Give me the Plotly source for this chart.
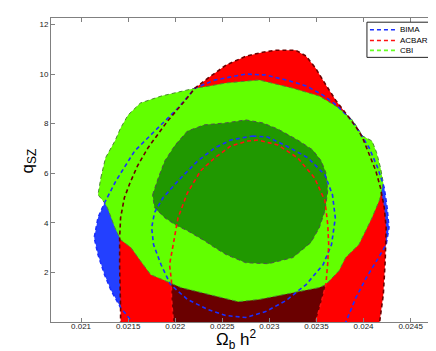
import plotly.graph_objects as go

# ---- data (data coordinates) ----
x_ticks = [0.021, 0.0215, 0.022, 0.0225, 0.023, 0.0235, 0.024, 0.0245]
x_tick_labels = ["0.021", "0.0215", "0.022", "0.0225", "0.023", "0.0235", "0.024", "0.0245"]
y_ticks = [2, 4, 6, 8, 10, 12]
y_tick_labels = ["2", "4", "6", "8", "10", "12"]

# BIMA outer (2 sigma) contour
bima2_x = [0.02157, 0.02153, 0.02142, 0.02132, 0.02125, 0.02118, 0.02114, 0.02118, 0.02125,
           0.02137, 0.02157, 0.02178, 0.02203, 0.02221, 0.02242, 0.02275, 0.02296, 0.02318,
           0.02339, 0.02357, 0.02371, 0.02385, 0.02395, 0.02406, 0.02415, 0.02422, 0.02425,
           0.02427, 0.02424, 0.02416, 0.02403, 0.02392, 0.02381, 0.02379]
bima2_y = [-0.42, 0.06, 0.58, 1.27, 1.91, 2.72, 3.40, 4.20, 4.81,
           5.69, 6.90, 7.70, 8.63, 9.43, 9.76, 10.00, 9.96, 9.76,
           9.52, 9.15, 8.75, 8.23, 7.70, 7.02, 6.22, 5.41, 4.61,
           3.80, 3.12, 2.60, 1.79, 0.99, -0.02, -0.42]

# BIMA inner (1 sigma) contour
bima1_x = [0.02282, 0.02298, 0.02316, 0.02341, 0.02359, 0.02367, 0.02370, 0.02366, 0.02357,
           0.02339, 0.02318, 0.02296, 0.02275, 0.02254, 0.02235, 0.02213, 0.02195, 0.02185,
           0.02177, 0.02175, 0.02178, 0.02187, 0.02203, 0.02224, 0.02242, 0.02259, 0.02282]
bima1_y = [7.50, 7.46, 7.14, 6.62, 5.93, 5.13, 4.20, 3.12, 2.31,
           1.51, 0.87, 0.42, 0.18, 0.26, 0.50, 0.91, 1.51, 2.31,
           3.12, 3.80, 4.41, 5.01, 5.69, 6.50, 7.02, 7.34, 7.50]

# ACBAR outer (2 sigma) contour
acbar2_x = [0.02142, 0.02142, 0.02141, 0.02141, 0.02142, 0.02146, 0.02152, 0.02160, 0.02171,
            0.02192, 0.02210, 0.02221, 0.02235, 0.02254, 0.02275, 0.02293, 0.02307, 0.02328,
            0.02339, 0.02349, 0.02360, 0.02371, 0.02385, 0.02395, 0.02399, 0.02406, 0.02413,
            0.02418, 0.02422, 0.02424, 0.02423, 0.02421, 0.02417, 0.02417]
acbar2_y = [-0.42, 0.58, 2.19, 3.40, 4.20, 5.01, 5.61, 6.30, 7.02,
            8.11, 8.91, 9.43, 9.84, 10.36, 10.72, 10.88, 10.96, 10.96,
            10.72, 10.24, 9.56, 8.91, 8.23, 7.70, 7.42, 6.74, 6.10,
            5.41, 4.61, 3.80, 2.47, 1.11, -0.02, -0.42]

# ACBAR inner (1 sigma) contour
acbar1_x = [0.02198, 0.02198, 0.02196, 0.02196, 0.02194, 0.02198, 0.02203, 0.02213, 0.02227,
            0.02242, 0.02259, 0.02277, 0.02288, 0.02309, 0.02330, 0.02348, 0.02359, 0.02362,
            0.02363, 0.02362, 0.02360, 0.02355, 0.02349, 0.02348]
acbar1_y = [-0.42, -0.02, 0.99, 1.67, 2.31, 3.12, 4.20, 5.21, 6.10,
            6.62, 7.10, 7.30, 7.34, 7.14, 6.62, 5.81, 4.89, 3.92,
            3.12, 2.39, 1.51, 0.78, -0.02, -0.42]

# CBI outer (2 sigma) region
cbi2_x = [0.02121, 0.02126, 0.02136, 0.02142, 0.02150, 0.02163, 0.02185, 0.02203, 0.02221,
          0.02235, 0.02254, 0.02289, 0.02325, 0.02353, 0.02374, 0.02389, 0.02399, 0.02409,
          0.02414, 0.02418, 0.02421, 0.02417, 0.02409, 0.02395, 0.02381, 0.02374, 0.02360,
          0.02353, 0.02325, 0.02289, 0.02267, 0.02235, 0.02206, 0.02189, 0.02174, 0.02163,
          0.02153, 0.02142, 0.02136, 0.02128, 0.02125, 0.02118, 0.02121]
cbi2_y = [5.81, 6.62, 7.30, 7.82, 8.35, 8.83, 9.11, 9.27, 9.43,
          9.51, 9.64, 9.76, 9.43, 9.11, 8.63, 8.11, 7.50, 7.30,
          6.82, 6.22, 5.61, 4.93, 4.20, 3.12, 2.60, 2.07, 1.51,
          1.39, 1.19, 0.91, 0.82, 1.11, 1.39, 1.67, 1.91, 2.47,
          3.00, 3.32, 3.80, 4.61, 4.81, 5.13, 5.81]

# CBI inner (1 sigma) region
cbi1_x = [0.02176, 0.02182, 0.02189, 0.02200, 0.02213, 0.02231, 0.02254, 0.02275, 0.02293,
          0.02309, 0.02330, 0.02346, 0.02355, 0.02360, 0.02362, 0.02359, 0.02353, 0.02344,
          0.02325, 0.02299, 0.02275, 0.02254, 0.02242, 0.02231, 0.02213, 0.02200, 0.02189,
          0.02178, 0.02176]
cbi1_y = [5.13, 5.81, 6.50, 7.14, 7.70, 7.95, 8.03, 8.15, 8.03,
          7.78, 7.34, 6.94, 6.50, 6.02, 5.29, 4.49, 3.80, 3.20,
          2.60, 2.35, 2.39, 2.72, 3.00, 3.28, 3.68, 3.92, 4.20,
          4.61, 5.13]

series_names = ["BIMA", "ACBAR", "CBI"]
series_colors = ["#1a2fff", "#ff1010", "#66ff22"]

# ---- styles ----
BLUE_FILL = "#2340ff"
RED_FILL = "#ff0000"
DARKRED_FILL = "#6a0000"
LGREEN_FILL = "#62ff00"
DGREEN_FILL = "#209800"
DASH = "4px,3px"
FONT = "Liberation Sans, Arial, sans-serif"

fig = go.Figure()

def fill(xs, ys, color, edge=None):
    fig.add_trace(go.Scatter(
        x=xs, y=ys, fill="toself", fillcolor=color,
        mode="lines" if edge else "none",
        line=dict(color=edge or color, width=1, dash=DASH),
        hoverinfo="skip", showlegend=False))

def contour(xs, ys, color, name=None, width=1.6):
    fig.add_trace(go.Scatter(
        x=xs, y=ys, mode="lines",
        line=dict(color=color, width=width, dash=DASH),
        name=name, showlegend=False, hoverinfo="skip"))

fill(bima2_x, bima2_y, BLUE_FILL)
fill(acbar2_x, acbar2_y, RED_FILL)
fill(acbar1_x, acbar1_y, DARKRED_FILL)
fill(cbi2_x, cbi2_y, LGREEN_FILL, edge="#4a8a30")
fill(cbi1_x, cbi1_y, DGREEN_FILL, edge="#505050")

contour(bima2_x, bima2_y, series_colors[0], name=series_names[0])
contour(acbar2_x, acbar2_y, "#6e0000")
contour(bima1_x, bima1_y, series_colors[0])
contour(acbar1_x, acbar1_y, series_colors[1], name=series_names[1])

axis_common = dict(
    showline=True, mirror="ticks", linecolor="#808080", linewidth=1,
    ticks="inside", ticklen=4, tickcolor="#808080",
    showgrid=False, zeroline=False,
    tickfont=dict(family=FONT, size=8, color="#222"),
)

# ---- legend box (drawn in paper coordinates) ----
shapes = [dict(type="rect", xref="paper", yref="paper", x0=0.8185, x1=0.9914,
               y0=0.8705, y1=0.9862, line=dict(color="#222", width=1), fillcolor="white",
               layer="above")]
annotations = []
legend_rows = [0.9613, 0.9262, 0.8934]
for name, col, yy in zip(series_names, series_colors, legend_rows):
    shapes.append(dict(type="line", xref="paper", yref="paper", x0=0.8263, x1=0.8989,
                       y0=yy, y1=yy, line=dict(color=col, width=1.6, dash=DASH), layer="above"))
    annotations.append(dict(text=name, xref="paper", yref="paper", x=0.899, y=yy,
                            xanchor="left", yanchor="middle", showarrow=False,
                            font=dict(family=FONT, size=8, color="#000")))

# axis titles
annotations.append(dict(text="Ω<sub>b</sub> h<sup>2</sup>", xref="paper", yref="paper",
                        x=0.480, y=-0.058, xanchor="center", yanchor="middle", showarrow=False,
                        font=dict(family=FONT, size=17, color="#000")))
annotations.append(dict(text="q<sub>SZ</sub>", xref="paper", yref="paper", textangle=-90,
                        x=-0.058, y=0.53, xanchor="center", yanchor="middle", showarrow=False,
                        font=dict(family=FONT, size=17, color="#000")))

fig.update_layout(
    width=436, height=351,
    margin=dict(l=43, r=7, t=10, b=37),
    paper_bgcolor="white", plot_bgcolor="white",
    xaxis=dict(range=[0.020681, 0.02478], tickvals=x_ticks, ticktext=x_tick_labels,
               ticklabelstandoff=-4, **axis_common),
    yaxis=dict(range=[0, 12.26], tickvals=y_ticks, ticktext=y_tick_labels, **axis_common),
    shapes=shapes, annotations=annotations,
    showlegend=False,
)

fig.write_html("out.html")
